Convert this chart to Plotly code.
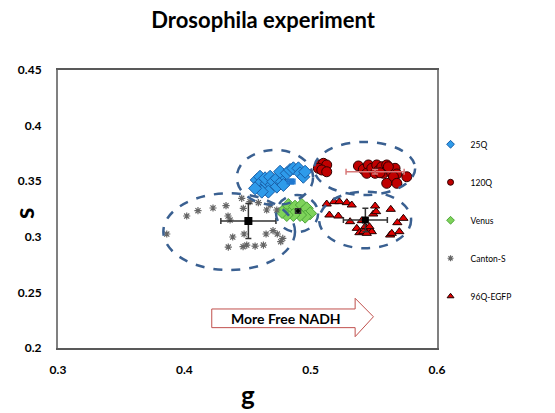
import plotly.graph_objects as go

# ---- data (g, s) ----
q25_g = [0.4573, 0.4599, 0.4586, 0.4625, 0.4652, 0.4639, 0.4679, 0.4692, 0.4705, 0.4732, 0.4732, 0.4771,
         0.4784, 0.4758, 0.4811, 0.4837, 0.4863, 0.4903, 0.4916, 0.4942, 0.4956, 0.4784, 0.4665, 0.4613, 0.4560]
q25_s = [0.3511, 0.3540, 0.3466, 0.3436, 0.3481, 0.3526, 0.3540, 0.3466, 0.3496, 0.3451, 0.3526, 0.3496,
         0.3556, 0.3585, 0.3571, 0.3601, 0.3616, 0.3616, 0.3571, 0.3540, 0.3585, 0.3466, 0.3406, 0.3406, 0.3436]

q120_g = [0.5074, 0.5101, 0.5127, 0.5061, 0.5088, 0.5127, 0.5378, 0.5417, 0.5457, 0.5444, 0.5484, 0.5523,
          0.5536, 0.5563, 0.5576, 0.5602, 0.5629, 0.5642, 0.5668, 0.5682, 0.5655, 0.5602, 0.5682, 0.5761,
          0.5510, 0.5549, 0.5615]
q120_s = [0.3646, 0.3661, 0.3646, 0.3616, 0.3601, 0.3585, 0.3637, 0.3607, 0.3646, 0.3571, 0.3616, 0.3646,
          0.3594, 0.3630, 0.3571, 0.3646, 0.3601, 0.3571, 0.3616, 0.3565, 0.3540, 0.3481, 0.3481, 0.3540,
          0.3571, 0.3576, 0.3630]

venus_g = [0.4797, 0.4823, 0.4850, 0.4876, 0.4930, 0.4942, 0.4969, 0.4995, 0.4956, 0.4916, 0.4863, 0.4811, 0.4774]
venus_s = [0.3241, 0.3286, 0.3226, 0.3271, 0.3286, 0.3226, 0.3256, 0.3211, 0.3181, 0.3196, 0.3196, 0.3196, 0.3223]

canton_g = [0.3861, 0.4019, 0.4108, 0.4227, 0.4330, 0.4346, 0.4362, 0.4383, 0.4348, 0.4473, 0.4465, 0.4494,
            0.4560, 0.4626, 0.4647, 0.4702, 0.4736, 0.4779, 0.4763, 0.4467, 0.4454, 0.4520, 0.4586, 0.4652,
            0.4679, 0.4732]
canton_s = [0.3025, 0.3187, 0.3235, 0.3259, 0.3280, 0.3187, 0.3151, 0.2998, 0.2908, 0.3025, 0.2911, 0.2926,
            0.2917, 0.2926, 0.3025, 0.3055, 0.3025, 0.2986, 0.2956, 0.3256, 0.3346, 0.3316, 0.3307, 0.3241,
            0.3286, 0.3241]

q96_g = [0.5127, 0.5185, 0.5227, 0.5286, 0.5325, 0.5148, 0.5219, 0.5312, 0.5365, 0.5386, 0.5417, 0.5431,
         0.5470, 0.5484, 0.5405, 0.5496, 0.5518, 0.5510, 0.5634, 0.5734, 0.5686, 0.5702, 0.5629, 0.5642,
         0.5444, 0.5465]
q96_s = [0.3295, 0.3316, 0.3316, 0.3307, 0.3286, 0.3196, 0.3187, 0.3136, 0.3076, 0.3037, 0.3046, 0.3091,
         0.3067, 0.3046, 0.3145, 0.3205, 0.3226, 0.3277, 0.3247, 0.3166, 0.3127, 0.3046, 0.3016, 0.3031,
         0.3031, 0.3091]

# group means and standard deviations: 25Q, 120Q, Venus, Canton-S, 96Q-EGFP
mean_names = ["25Q", "120Q", "Venus", "Canton-S", "96Q-EGFP"]
mean_g = [0.4845, 0.5510, 0.4900, 0.4507, 0.5433]
mean_s = [0.3497, 0.3585, 0.3232, 0.3142, 0.3151]
sd_g = [0.003, 0.023, 0.002, 0.0218, 0.0174]
sd_s = [0.002, 0.002, 0.002, 0.0157, 0.0105]

x_ticks = [0.3, 0.4, 0.5, 0.6]
x_labels = ["0.3", "0.4", "0.5", "0.6"]
y_ticks = [0.2, 0.25, 0.3, 0.35, 0.4, 0.45]
y_labels = ["0.2", "0.25", "0.3", "0.35", "0.4", "0.45"]

# cluster ellipses (g0, g1, s0, s1)
ellipses = [
    (0.3834, 0.4876, 0.2701, 0.3391),
    (0.4415, 0.5019, 0.3286, 0.3781),
    (0.4726, 0.5059, 0.3043, 0.3376),
    (0.5027, 0.5827, 0.3376, 0.3853),
    (0.5067, 0.5795, 0.2897, 0.3406),
]

FONT = "Lato"

series = [
    ("25Q", q25_g, q25_s, dict(symbol="diamond", size=10, color="#2E9BEA", line=dict(color="#1A5FA8", width=1))),
    ("120Q", q120_g, q120_s, dict(symbol="circle", size=10, color="#C00000", line=dict(color="#300000", width=1))),
    ("Venus", venus_g, venus_s, dict(symbol="diamond", size=10, color="#7ED35A", line=dict(color="#4FA63A", width=1))),
    ("Canton-S", canton_g, canton_s, dict(symbol="asterisk-open", size=6, color="#666666", line=dict(color="#666666", width=1.2))),
    ("96Q-EGFP", q96_g, q96_s, dict(symbol="triangle-up", size=8, color="#E00000", line=dict(color="#200000", width=1))),
]

fig = go.Figure()

for name, gx, sy, mk in series:
    fig.add_trace(go.Scatter(x=gx, y=sy, mode="markers", name=name, marker=mk, showlegend=False))

# means with error bars
mean_styles = [
    dict(symbol="square", size=6, color="#1F78D0"),
    dict(symbol="circle", size=1, color="#C00000"),
    dict(symbol="circle", size=4, color="#000000"),
    dict(symbol="square", size=8, color="#000000"),
    dict(symbol="square", size=7, color="#000000"),
]
err_colors = ["#1F78D0", "#D87A7A", "#333333", "#333333", "#333333"]
for i in range(len(mean_names)):
    fig.add_trace(go.Scatter(
        x=[mean_g[i]], y=[mean_s[i]], mode="markers", showlegend=False,
        marker=mean_styles[i],
        error_x=dict(type="data", array=[sd_g[i]], color=err_colors[i], thickness=1.5, width=3),
        error_y=dict(type="data", array=[sd_s[i]], color=err_colors[i], thickness=1.5, width=3),
    ))

# legend entries
for name, gx, sy, mk in series:
    lm = dict(mk)
    lm["size"] = 6 if mk["symbol"] != "asterisk-open" else 5
    fig.add_trace(go.Scatter(x=[None], y=[None], mode="markers", name=name, marker=lm,
                             legendgroup=name, showlegend=True))

shapes = []
for g0, g1, s0, s1 in ellipses:
    shapes.append(dict(type="circle", xref="x", yref="y", x0=g0, x1=g1, y0=s0, y1=s1,
                       line=dict(color="#3A6091", width=2.5, dash="dash"), layer="above"))

# block arrow "More Free NADH"
ax0, axh, axt = 0.4217, 0.5352, 0.5497
ay_top, ay_bot, ah_top, ah_bot, ay_mid = 0.2351, 0.2183, 0.2447, 0.2102, 0.2281
path = (f"M {ax0},{ay_bot} L {ax0},{ay_top} L {axh},{ay_top} L {axh},{ah_top} "
        f"L {axt},{ay_mid} L {axh},{ah_bot} L {axh},{ay_bot} Z")
shapes.append(dict(type="path", xref="x", yref="y", path=path,
                   line=dict(color="#C0504D", width=1), fillcolor="white", layer="above"))

annotations = [
    dict(text="<b>More Free NADH</b>", x=(ax0 + axh) / 2 + 0.002, y=(ay_top + ay_bot) / 2,
         xref="x", yref="y", showarrow=False, font=dict(size=14, family=FONT, color="black")),
    dict(text="<b>g</b>", x=0.5, y=-0.17, xref="paper", yref="paper", xanchor="center", yanchor="middle",
         showarrow=False, font=dict(size=26, family=FONT, color="black")),
    dict(text="<b>s</b>", x=-0.09, y=0.485, xref="paper", yref="paper", xanchor="center", yanchor="middle",
         textangle=-90, showarrow=False, font=dict(size=26, family=FONT, color="black")),
]

fig.update_layout(
    width=555, height=413,
    margin=dict(l=58, r=118, t=70, b=65),
    paper_bgcolor="white", plot_bgcolor="white",
    font=dict(family=FONT, color="black"),
    title=dict(text="<b>Drosophila experiment</b>", x=0.474, xanchor="center", y=0.95, yanchor="middle",
               font=dict(size=22, family=FONT, color="black")),
    shapes=shapes,
    annotations=annotations,
    legend=dict(x=0.983, y=0.785, xanchor="left", yanchor="top", font=dict(size=8.5, family=FONT),
                tracegroupgap=19, bgcolor="rgba(0,0,0,0)", itemwidth=30),
    showlegend=True,
)

fig.update_xaxes(range=[0.3, 0.6], tickvals=x_ticks, ticktext=x_labels, showgrid=False, zeroline=False,
                 showline=True, linecolor="#595959", linewidth=2, mirror=True, ticks="",
                 ticklabelstandoff=10, automargin=False,
                 tickfont=dict(size=12, family=FONT, color="black", weight="bold"))
fig.update_yaxes(range=[0.2, 0.45], tickvals=y_ticks, ticktext=y_labels, showgrid=False, zeroline=False,
                 showline=True, linecolor="#808080", linewidth=2, mirror=True, ticks="",
                 ticklabelstandoff=12, automargin=False,
                 tickfont=dict(size=12, family=FONT, color="black", weight="bold"))

fig.write_html("out.html")
